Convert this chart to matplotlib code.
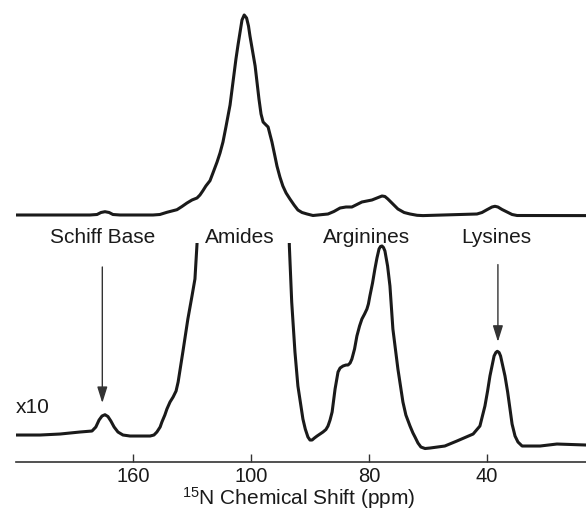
import numpy as np
import matplotlib
matplotlib.use("Agg")
import matplotlib.pyplot as plt

plt.rcParams['font.family'] = ['Liberation Sans', 'DejaVu Sans']
plt.rcParams['mathtext.default'] = 'regular'

# top trace (full scale), intensity relative to amide maximum = 100
top_ppm = [199.7, 174.6, 172.2, 170.85, 169.5, 168.1, 166.8, 164.4, 153.2, 150.9,
           148.5, 146.8, 145.1, 143.4, 141.7, 140.0, 138.3, 137.3, 136.3, 135.3,
           133.9, 132.9, 131.5, 130.5, 129.5, 128.5, 127.1, 126.1, 125.1, 124.4,
           123.7, 123.05, 122.3, 121.5, 120.85, 120.35, 118.6, 117.3, 116.6, 115.9,
           114.9, 114.2, 113.6, 112.9, 111.9, 111.2, 110.2, 109.2, 108.1, 106.8,
           105.4, 104.1, 102.7, 101.0, 99.0, 93.9, 91.9, 89.8, 87.8, 85.8,
           84.1, 82.4, 80.7, 79.0, 77.3, 75.6, 74.6, 73.6, 71.9, 70.2,
           68.1, 66.1, 63.7, 61.7, 43.4, 41.7, 40.0, 38.3, 37.3, 36.3,
           34.9, 33.2, 31.5, 29.8, 6.4]
top_int = [0, 0, 0.25, 1.25, 1.65, 1.25, 0.25, 0, 0, 0.25,
           1.35, 2, 2.65, 4.25, 6, 7.5, 8.5, 10, 12.15, 14.5,
           17.15, 21, 26.5, 31, 36.5, 44, 55, 66.5, 78, 85,
           91.5, 97.5, 100, 98.5, 94.5, 89.5, 74.5, 58, 50.5, 46.5,
           45, 44, 40.5, 36.5, 29.5, 24.5, 19, 14.5, 11, 8,
           5, 2.5, 1.25, 0.5, -0.25, 0.5, 1.75, 3.5, 4, 4,
           5.25, 6.5, 7, 7.5, 8.5, 9.5, 9.25, 8, 5.5, 3,
           1.25, 0.5, -0.15, -0.3, 0.5, 1.25, 2.65, 4, 4.35, 4,
           2.75, 1.5, 0.25, -0.25, -0.3]

# lower trace, vertical scale x10 (amide band runs off the top)
low_ppm = [199.7, 191.5, 184.7, 178.0, 173.9, 172.6, 171.5, 170.5, 169.5, 168.5,
           167.5, 166.4, 165.1, 163.4, 161.0, 154.2, 152.9, 151.9, 150.8, 150.2,
           149.2, 148.5, 147.45, 146.4, 145.4, 144.7, 143.1, 141.4, 140.0, 139.0,
           138.3, 137.8, 107.3, 107.0, 106.6, 106.2, 105.1, 104.1, 102.4, 101.6,
           100.7, 100.0, 99.3, 98.5, 97.6, 96.6, 95.6, 94.6, 93.9, 93.2,
           92.5, 91.5, 90.5, 89.8, 88.8, 87.8, 87.1, 86.4, 85.8, 84.9,
           84.1, 83.2, 82.4, 81.5, 80.7, 80.2, 79.7, 78.8, 78.0, 77.3,
           76.6, 76.1, 75.6, 75.1, 74.6, 73.7, 72.9, 71.9, 70.2, 68.5,
           67.5, 66.1, 65.1, 64.4, 63.4, 62.4, 61.0, 59.3, 54.3, 50.2,
           44.7, 42.4, 40.7, 39.8, 39.0, 37.6, 37.0, 36.5, 35.9, 35.4,
           33.9, 33.0, 32.2, 31.5, 30.5, 29.5, 28.1, 22.0, 16.3, 6.4]
low_int = [0, 0, 0.5, 1.5, 2, 4, 7.5, 9.5, 10.15, 9.25,
           7, 4, 1.5, 0, -0.5, -0.5, 0, 1.5, 4, 6.5,
           10, 13, 16.5, 19, 22, 26.5, 41.5, 58, 69.5, 78,
           95.5, 118, 118, 94.5, 80.5, 66.5, 41.5, 24.5, 8, 3,
           -1, -2.5, -2.5, -1.5, -0.5, 0.5, 1.5, 2.75, 4.5, 7.5,
           11.5, 23, 31.5, 33.5, 34.5, 35, 35, 36, 38, 43,
           49.5, 54.5, 58, 60.5, 63, 65.5, 69.5, 76, 83, 88.5,
           93, 94.25, 94.5, 93.75, 92, 84.5, 74.5, 53, 33, 16.5,
           10, 4.5, 1, -1, -4, -6, -6.75, -6.5, -5.5, -3,
           0.5, 4.5, 14.5, 22, 29.5, 39.5, 41.25, 41.85, 41.25, 39.5,
           29.5, 21.5, 13, 5.5, -0.5, -3.5, -5.5, -5.5, -4.5, -5]

tick_pos = [160, 120, 80, 40]
tick_lab = ['160', '100', '80', '40']

labels = ['Schiff Base', 'Amides', 'Arginines', 'Lysines']
label_x = [0.1758, 0.4096, 0.6263, 0.8464]

col = '#1a1a1a'
xl = (199.66, 6.44)

fig = plt.figure(figsize=(5.86, 5.10), dpi=100)

ax_top = fig.add_axes([0.0273, 0.5451, 0.9727, 0.4471])
ax_top.plot(top_ppm, top_int, color=col, lw=2.2, solid_joinstyle='round')
ax_top.set_xlim(*xl)
ax_top.set_ylim(-8, 106)
ax_top.axis('off')

ax = fig.add_axes([0.0273, 0.0927, 0.9727, 0.4289])
ax.plot(low_ppm, low_int, color=col, lw=2.2, solid_joinstyle='round')
ax.set_xlim(*xl)
ax.set_ylim(-13.35, 96)
for s in ['top', 'left', 'right']:
    ax.spines[s].set_visible(False)
ax.spines['bottom'].set_linewidth(1.2)
ax.spines['bottom'].set_color('#333333')
ax.set_yticks([])
ax.set_xticks(tick_pos, labels=tick_lab)
ax.tick_params(axis='x', direction='in', length=5.5, width=1, colors='#333333',
               labelsize=14.5, pad=3, labelcolor='#1a1a1a')

# arrows to Schiff base and lysines
ax.annotate('', xy=(170.4, 16), xytext=(170.4, 84),
            arrowprops=dict(arrowstyle='-|>,head_length=0.7,head_width=0.22',
                            lw=1, color='#333333', mutation_scale=14, shrinkA=0, shrinkB=0))
ax.annotate('', xy=(36.3, 46.6), xytext=(36.3, 85.2),
            arrowprops=dict(arrowstyle='-|>,head_length=0.7,head_width=0.22',
                            lw=1, color='#333333', mutation_scale=14, shrinkA=0, shrinkB=0))

for t, x in zip(labels, label_x):
    fig.text(x, 0.5235, t, ha='center', va='baseline', fontsize=15, color=col)

fig.text(0.0273, 0.1908, 'x10', ha='left', va='baseline', fontsize=15, color=col)
fig.text(0.510, 0.0098, '$^{15}$N Chemical Shift (ppm)', ha='center', va='baseline',
         fontsize=15, color=col)

fig.savefig('out.png', dpi=100)
